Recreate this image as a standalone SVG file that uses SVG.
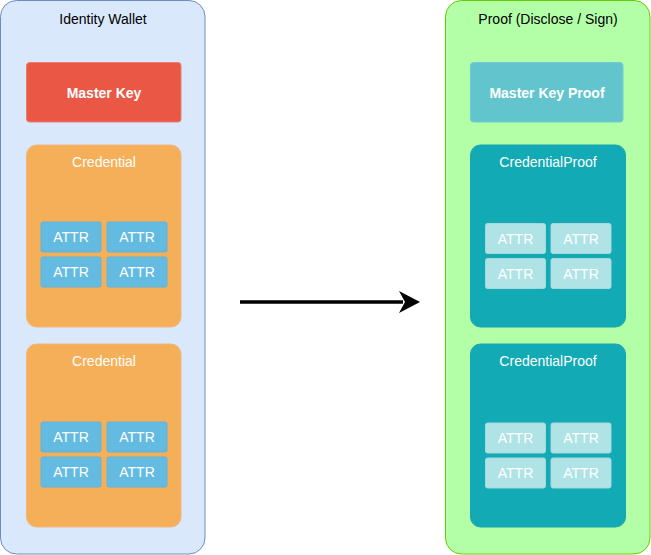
<svg xmlns="http://www.w3.org/2000/svg" width="651" height="555" viewBox="0 0 651 555">
<defs>
<style>
text{font-family:"Liberation Sans",Arial,sans-serif;text-anchor:middle;font-size:14px}
.t{fill:#000}
.w{fill:#fff}
.b{fill:#fff;font-weight:bold}
.attr{fill:#64bbe2;stroke:#5fb3d8}
.pattr{fill:#b0e3e6;stroke:#a8d8dc}
.cred{fill:#f5af58;stroke:#f0b87a}
.pcred{fill:#12aab5;stroke:#1aa6b0}
</style>
</defs>
<g id="wallet">
<rect x="0.5" y="0.5" width="204.5" height="553.5" rx="16" fill="#dae8fc" stroke="#6c8ebf"/>
<text class="t" x="103" y="24">Identity Wallet</text>
</g>
<g id="masterkey">
<rect x="26.5" y="62.5" width="154.5" height="59.5" rx="3" fill="#ea5744" stroke="#e88070"/>
<text class="b" x="104" y="98">Master Key</text>
</g>
<g id="credential1">
<rect class="cred" x="26.5" y="145" width="154.5" height="182" rx="10"/>
<text class="w" x="104" y="167">Credential</text>
<rect class="attr" x="41" y="222" width="60" height="30" rx="2"/><text class="w" x="71" y="242">ATTR</text>
<rect class="attr" x="107" y="222" width="60" height="30" rx="2"/><text class="w" x="137" y="242">ATTR</text>
<rect class="attr" x="41" y="257" width="60" height="30" rx="2"/><text class="w" x="71" y="277">ATTR</text>
<rect class="attr" x="107" y="257" width="60" height="30" rx="2"/><text class="w" x="137" y="277">ATTR</text>
</g>
<g id="credential2">
<rect class="cred" x="26.5" y="344" width="154.5" height="183" rx="10"/>
<text class="w" x="104" y="366">Credential</text>
<rect class="attr" x="41" y="422" width="60" height="30" rx="2"/><text class="w" x="71" y="442">ATTR</text>
<rect class="attr" x="107" y="422" width="60" height="30" rx="2"/><text class="w" x="137" y="442">ATTR</text>
<rect class="attr" x="41" y="457" width="60" height="30" rx="2"/><text class="w" x="71" y="477">ATTR</text>
<rect class="attr" x="107" y="457" width="60" height="30" rx="2"/><text class="w" x="137" y="477">ATTR</text>
</g>
<g id="proof">
<rect x="445.5" y="0.5" width="204.5" height="553.5" rx="16" fill="#b3ffa8" stroke="#66cc00"/>
<text class="t" x="548" y="24">Proof (Disclose / Sign)</text>
</g>
<g id="masterkeyproof">
<rect x="470.5" y="62.5" width="152.5" height="59.5" rx="3" fill="#62c5cd" stroke="#70ccd2"/>
<text class="b" x="547" y="98">Master Key Proof</text>
</g>
<g id="credproof1">
<rect class="pcred" x="470.5" y="145" width="155" height="182" rx="10"/>
<text class="w" x="548" y="167">CredentialProof</text>
<rect class="pattr" x="485.5" y="223.5" width="60" height="30" rx="2"/><text class="w" x="515.5" y="243.5">ATTR</text>
<rect class="pattr" x="551" y="223.5" width="60" height="30" rx="2"/><text class="w" x="581" y="243.5">ATTR</text>
<rect class="pattr" x="485.5" y="258.5" width="60" height="30" rx="2"/><text class="w" x="515.5" y="278.5">ATTR</text>
<rect class="pattr" x="551" y="258.5" width="60" height="30" rx="2"/><text class="w" x="581" y="278.5">ATTR</text>
</g>
<g id="credproof2">
<rect class="pcred" x="470.5" y="344" width="155" height="183" rx="10"/>
<text class="w" x="548" y="366">CredentialProof</text>
<rect class="pattr" x="485.5" y="423" width="60" height="30" rx="2"/><text class="w" x="515.5" y="443">ATTR</text>
<rect class="pattr" x="551" y="423" width="60" height="30" rx="2"/><text class="w" x="581" y="443">ATTR</text>
<rect class="pattr" x="485.5" y="458" width="60" height="30" rx="2"/><text class="w" x="515.5" y="478">ATTR</text>
<rect class="pattr" x="551" y="458" width="60" height="30" rx="2"/><text class="w" x="581" y="478">ATTR</text>
</g>
<g id="connectors">
<line x1="240" y1="302" x2="403" y2="302" stroke="#000" stroke-width="3.5"/>
<path d="M420,302 L399,291 L405,302 L399,313 Z" fill="#000"/>
</g>
</svg>
